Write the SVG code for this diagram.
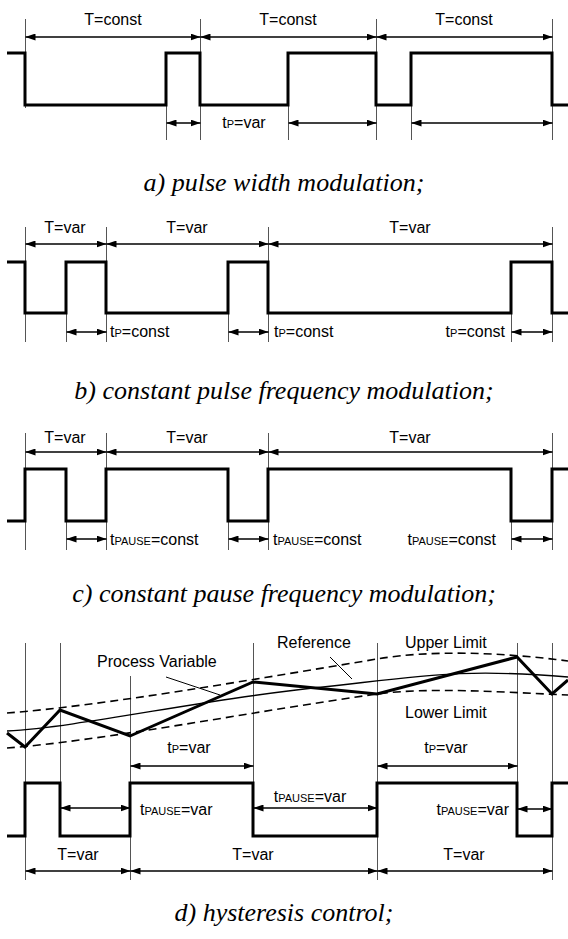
<svg xmlns="http://www.w3.org/2000/svg" width="568" height="939" viewBox="0 0 568 939">
<style>
  .lbl { font-family: "Liberation Sans", Arial, sans-serif; font-size: 16px; fill: #000; }
  .sub { font-size: 11px; }
  .cap { font-family: "Liberation Serif", "Times New Roman", serif; font-style: italic; font-size: 26px; fill: #000; text-anchor: middle; }
  .wave { fill: none; stroke: #000; stroke-width: 3; stroke-linejoin: miter; }
  .guide { fill: none; stroke: #555; stroke-width: 1; }
  .dim { fill: none; stroke: #000; stroke-width: 1.3; marker-start: url(#ah); marker-end: url(#ah); }
  .pv { fill: none; stroke: #000; stroke-width: 3; stroke-linejoin: miter; }
  .ref { fill: none; stroke: #000; stroke-width: 1.3; }
  .lim { fill: none; stroke: #000; stroke-width: 1.6; stroke-dasharray: 8 5; }
  .lead { fill: none; stroke: #000; stroke-width: 1; }
</style>
<defs>
  <marker id="ah" viewBox="0 0 10 7" refX="10" refY="3.5" markerWidth="10" markerHeight="7" markerUnits="userSpaceOnUse" orient="auto-start-reverse">
    <path d="M0,0 L10,3.5 L0,7 z" fill="#000"/>
  </marker>
</defs>
<rect width="568" height="939" fill="#fff"/>

<!-- Panel a -->
<g id="panel-a">
  <g class="guides">
    <path class="guide" d="M25.5,19 V108 M200.5,19 V140 M376.5,19 V140 M552.5,19 V140 M166.5,105 V140 M288.5,105 V140 M411.5,105 V140"/>
  </g>
  <path class="wave" d="M7,53 H25 V105 H166 V53 H200 V105 H288 V53 H376 V105 H411 V53 H552 V105 H568"/>
  <text class="lbl" x="113" y="25" text-anchor="middle">T=const</text>
  <text class="lbl" x="288" y="25" text-anchor="middle">T=const</text>
  <text class="lbl" x="464" y="25" text-anchor="middle">T=const</text>
  <text class="lbl" x="244" y="128" text-anchor="middle">t<tspan class="sub">P</tspan>=var</text>
  <text class="cap" x="284" y="191">a) pulse width modulation;</text>
</g>

<!-- Panel b -->
<g id="panel-b">
  <path class="guide" d="M25.5,227 V342 M106.5,227 V342 M268.5,227 V342 M552.5,227 V342 M66.5,313 V342 M228.5,313 V342 M511.5,313 V342"/>
  <path class="wave" d="M7,262 H25 V313 H66 V262 H106 V313 H228 V262 H268 V313 H511 V262 H552 V313 H568"/>
  <text class="lbl" x="65" y="233" text-anchor="middle">T=var</text>
  <text class="lbl" x="187" y="233" text-anchor="middle">T=var</text>
  <text class="lbl" x="410" y="233" text-anchor="middle">T=var</text>
  <text class="lbl" x="110" y="337">t<tspan class="sub">P</tspan>=const</text>
  <text class="lbl" x="274" y="337">t<tspan class="sub">P</tspan>=const</text>
  <text class="lbl" x="505" y="337" text-anchor="end">t<tspan class="sub">P</tspan>=const</text>
  <text class="cap" x="284" y="399">b) constant pulse frequency modulation;</text>
</g>

<!-- Panel c -->
<g id="panel-c">
  <path class="guide" d="M25.5,433 V550 M106.5,433 V550 M268.5,433 V550 M552.5,433 V550 M66.5,521 V550 M228.5,521 V550 M511.5,521 V550"/>
  <path class="wave" d="M7,521 H25 V469 H66 V521 H106 V469 H228 V521 H268 V469 H511 V521 H552 V469 H568"/>
  <text class="lbl" x="65" y="443" text-anchor="middle">T=var</text>
  <text class="lbl" x="187" y="443" text-anchor="middle">T=var</text>
  <text class="lbl" x="410" y="443" text-anchor="middle">T=var</text>
  <text class="lbl" x="110" y="545">t<tspan class="sub">PAUSE</tspan>=const</text>
  <text class="lbl" x="273" y="545">t<tspan class="sub">PAUSE</tspan>=const</text>
  <text class="lbl" x="496" y="545" text-anchor="end">t<tspan class="sub">PAUSE</tspan>=const</text>
  <text class="cap" x="284" y="602">c) constant pause frequency modulation;</text>
</g>

<!-- Panel d -->
<g id="panel-d">
  <path class="guide" d="M25.5,643 V880 M60.5,643 V836 M130.5,676 V880 M253.5,643 V836 M377.5,643 V880 M517.5,643 V836 M552.5,643 V880"/>
  <path class="lim" d="M7,713 C100,706 250,680 377,659 C430,650 500,652 568,661"/>
  <path class="lim" d="M7,748 C100,741 250,712 377,694 C430,687 500,692 568,695"/>
  <path class="ref" d="M7,731 C80,727 200,700 313,688 C426,676 460,668 568,677"/>
  <polyline class="pv" points="7,733 25,747 60,710 130,736 253,682 377,694 517,657 552,694 568,680"/>
  <path class="lead" d="M166,677 L220,695 M330,657 L352,679"/>
  <text class="lbl" x="97" y="667">Process Variable</text>
  <text class="lbl" x="277" y="648">Reference</text>
  <text class="lbl" x="405" y="648">Upper Limit</text>
  <text class="lbl" x="405" y="718">Lower Limit</text>
  <path class="wave" d="M7,836 H25 V783 H60 V836 H130 V783 H253 V836 H377 V783 H517 V836 H552 V783 H568"/>
  <text class="lbl" x="189" y="753" text-anchor="middle">t<tspan class="sub">P</tspan>=var</text>
  <text class="lbl" x="446" y="753" text-anchor="middle">t<tspan class="sub">P</tspan>=var</text>
  <text class="lbl" x="140" y="815">t<tspan class="sub">PAUSE</tspan>=var</text>
  <text class="lbl" x="310" y="802" text-anchor="middle">t<tspan class="sub">PAUSE</tspan>=var</text>
  <text class="lbl" x="509" y="815" text-anchor="end">t<tspan class="sub">PAUSE</tspan>=var</text>
  <text class="lbl" x="78" y="860" text-anchor="middle">T=var</text>
  <text class="lbl" x="253" y="860" text-anchor="middle">T=var</text>
  <text class="lbl" x="464" y="860" text-anchor="middle">T=var</text>
  <text class="cap" x="284" y="921">d) hysteresis control;</text>
</g>

<!-- Connectors: dimension arrows -->
<g id="connectors">
  <line class="dim" x1="25.5" y1="37" x2="200.5" y2="37"/>
  <line class="dim" x1="200.5" y1="37" x2="376.5" y2="37"/>
  <line class="dim" x1="376.5" y1="37" x2="552.5" y2="37"/>
  <line class="dim" x1="166.5" y1="123" x2="200.5" y2="123"/>
  <line class="dim" x1="288.5" y1="123" x2="376.5" y2="123"/>
  <line class="dim" x1="411.5" y1="123" x2="552.5" y2="123"/>

  <line class="dim" x1="25.5" y1="244" x2="106.5" y2="244"/>
  <line class="dim" x1="106.5" y1="244" x2="268.5" y2="244"/>
  <line class="dim" x1="268.5" y1="244" x2="552.5" y2="244"/>
  <line class="dim" x1="66.5" y1="332" x2="106.5" y2="332"/>
  <line class="dim" x1="228.5" y1="332" x2="268.5" y2="332"/>
  <line class="dim" x1="511.5" y1="332" x2="552.5" y2="332"/>

  <line class="dim" x1="25.5" y1="452" x2="106.5" y2="452"/>
  <line class="dim" x1="106.5" y1="452" x2="268.5" y2="452"/>
  <line class="dim" x1="268.5" y1="452" x2="552.5" y2="452"/>
  <line class="dim" x1="66.5" y1="539" x2="106.5" y2="539"/>
  <line class="dim" x1="228.5" y1="539" x2="268.5" y2="539"/>
  <line class="dim" x1="511.5" y1="539" x2="552.5" y2="539"/>

  <line class="dim" x1="130.5" y1="766" x2="253.5" y2="766"/>
  <line class="dim" x1="377.5" y1="766" x2="517.5" y2="766"/>
  <line class="dim" x1="60.5" y1="808" x2="130.5" y2="808"/>
  <line class="dim" x1="253.5" y1="808" x2="377.5" y2="808"/>
  <line class="dim" x1="517.5" y1="809" x2="552.5" y2="809"/>
  <line class="dim" x1="25.5" y1="871" x2="130.5" y2="871"/>
  <line class="dim" x1="130.5" y1="871" x2="377.5" y2="871"/>
  <line class="dim" x1="377.5" y1="871" x2="552.5" y2="871"/>
</g>
</svg>
